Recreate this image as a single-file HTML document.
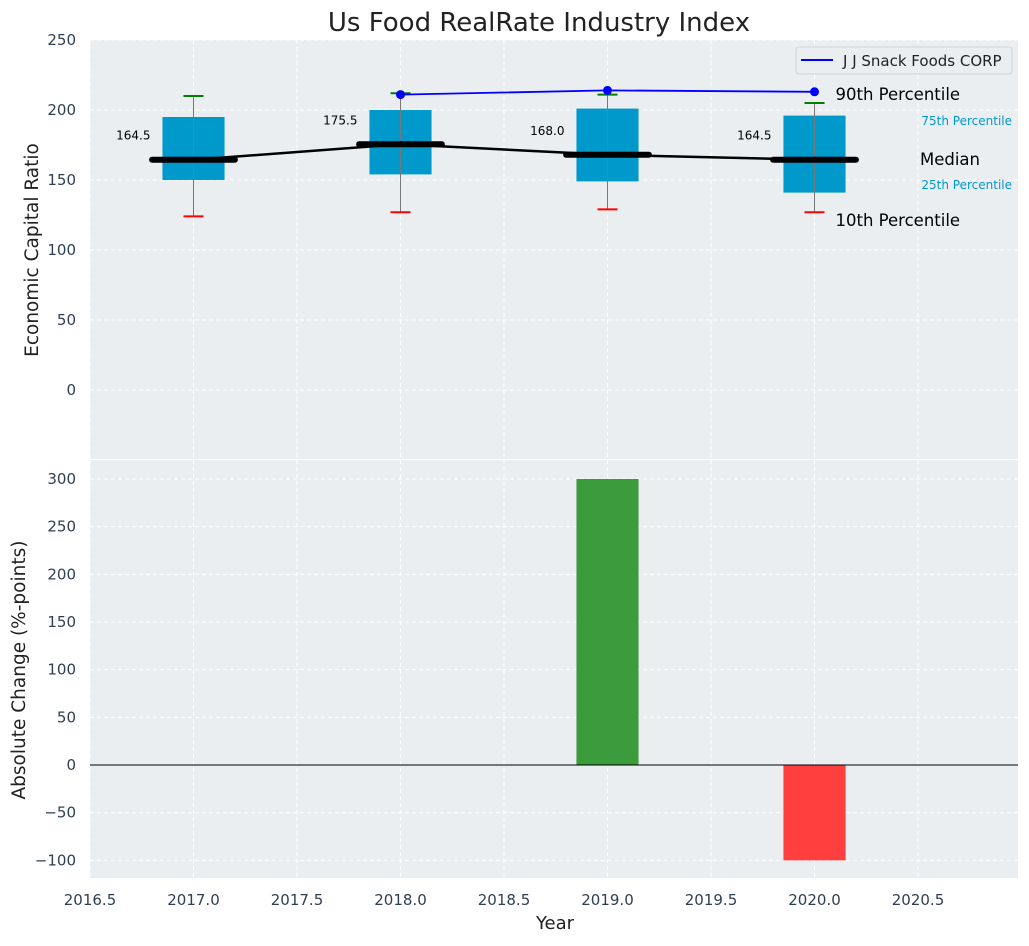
<!DOCTYPE html>
<html><head><meta charset="utf-8"><style>
body{margin:0;background:#fff;font-family:"DejaVu Sans","Liberation Sans",sans-serif}
svg text{font-family:"DejaVu Sans","Liberation Sans",sans-serif}
</style></head><body>
<svg id="c" width="1029" height="942" xmlns="http://www.w3.org/2000/svg"></svg>
<script>
const years=[2017,2018,2019,2020];
const p10=[124,127,129,127];
const q1=[150,154,149,141];
const med=[164.5,175.5,168.0,164.5];
const q3=[195,200,201,196];
const p90=[210,212,211,205];
const compYears=[2018,2019,2020];
const compVals=[211,214,213];
const changeYears=[2019,2020];
const changeVals=[300,-100];
const xTicks=[2016.5,2017.0,2017.5,2018.0,2018.5,2019.0,2019.5,2020.0,2020.5];
const yTicksTop=[0,50,100,150,200,250];
const yTicksBot=[-100,-50,0,50,100,150,200,250,300];

const NS="http://www.w3.org/2000/svg";
const svg=document.getElementById('c');
function el(t,a,txt){const e=document.createElementNS(NS,t);for(const k in a)e.setAttribute(k,a[k]);if(txt!==undefined)e.textContent=txt;svg.appendChild(e);return e;}
const L=90,R=1018;
const X=v=>L+(v-2016.5)*207;
const T0=40,T1=459,Yt=v=>390-v*1.4;
const B0=460,B1=878,Yb=v=>765-v*0.9533;

let e;
e=el('rect',{x:L,y:T0,width:R-L,height:T1-T0,fill:'#eaeef0'});

e=el('rect',{x:L,y:B0,width:R-L,height:B1-B0,fill:'#eaeef0'});

xTicks.forEach(t=>{
 el('line',{x1:X(t),x2:X(t),y1:T0,y2:T1,stroke:'#fff','stroke-dasharray':'4,3','stroke-width':1});
 el('line',{x1:X(t),x2:X(t),y1:B0,y2:B1,stroke:'#fff','stroke-dasharray':'4,3','stroke-width':1});
 e=el('text',{x:X(t),y:905,'text-anchor':'middle','font-size':15,fill:'#2e3f55'},t.toFixed(1));
 
});
yTicksTop.forEach(t=>{
 el('line',{x1:L,x2:R,y1:Yt(t),y2:Yt(t),stroke:'#fff','stroke-dasharray':'4,3'});
 e=el('text',{x:76,y:Yt(t)+5,'text-anchor':'end','font-size':15,fill:'#2e3f55'},t);
 
});
yTicksBot.forEach(t=>{
 el('line',{x1:L,x2:R,y1:Yb(t),y2:Yb(t),stroke:'#fff','stroke-dasharray':'4,3'});
 e=el('text',{x:76,y:Yb(t)+5,'text-anchor':'end','font-size':15,fill:'#2e3f55'},t===0?'0':(t<0?'\u2212'+(-t):t));
 
});
const bw=0.15*207;
years.forEach((y,i)=>{
 const cx=X(y);
 e=el('rect',{x:cx-bw,y:Yt(q3[i]),width:2*bw,height:Yt(q1[i])-Yt(q3[i]),fill:'#0099cc'});
 
 el('line',{x1:cx,x2:cx,y1:Yt(p90[i]),y2:Yt(p10[i]),stroke:'#777','stroke-width':1});
 el('line',{x1:cx-10,x2:cx+10,y1:Yt(p90[i]),y2:Yt(p90[i]),stroke:'green','stroke-width':2});
 el('line',{x1:cx-10,x2:cx+10,y1:Yt(p10[i]),y2:Yt(p10[i]),stroke:'red','stroke-width':2});
});
e=el('polyline',{points:years.map((y,i)=>X(y)+','+Yt(med[i])).join(' '),fill:'none',stroke:'#000','stroke-width':2.5});

years.forEach((y,i)=>{
 const cx=X(y);
 e=el('line',{x1:cx-0.2*207,x2:cx+0.2*207,y1:Yt(med[i]),y2:Yt(med[i]),stroke:'#000','stroke-width':6,'stroke-linecap':'round'});
 
 e=el('text',{x:cx-43,y:Yt(med[i])-20,'text-anchor':'end','font-size':12,fill:'#000'},med[i].toFixed(1));
 
});
e=el('polyline',{points:compYears.map((y,i)=>X(y)+','+Yt(compVals[i])).join(' '),fill:'none',stroke:'blue','stroke-width':1.8});

compYears.forEach((y,i)=>{e=el('circle',{cx:X(y),cy:Yt(compVals[i]),r:4.5,fill:'blue'});
 });
const ax=X(2020)+21;
[['90th Percentile',ax,100,16.5,'#000','start'],['75th Percentile',1012,125,12,'#0099cc','end'],['Median',980,165,16.5,'#000','end'],['25th Percentile',1012,189,12,'#0099cc','end'],['10th Percentile',ax,226,16.5,'#000','start']].forEach(a=>{
 e=el('text',{x:a[1],y:a[2],'font-size':a[3],fill:a[4],'text-anchor':a[5]},a[0]);
 
});
e=el('rect',{x:796,y:47,width:216,height:27,rx:3,fill:'#eaeef0',stroke:'#d0d4d8'});

el('line',{x1:801,x2:833,y1:60,y2:60,stroke:'blue','stroke-width':2});
e=el('text',{x:843,y:66,'font-size':15,fill:'#222'},'J J Snack Foods CORP');

changeYears.forEach((y,i)=>{
 const v=changeVals[i];
 e=el('rect',{x:X(y)-bw,y:Math.min(Yb(v),Yb(0)),width:2*bw,height:Math.abs(Yb(v)-Yb(0)),fill:v>=0?'#3a9c3a':'#ff3e3e'});
 
});
el('line',{x1:L,x2:R,y1:Yb(0),y2:Yb(0),stroke:'#000','stroke-width':1});
e=el('text',{x:539,y:31,'text-anchor':'middle','font-size':26,fill:'#222'},'Us Food RealRate Industry Index');

e=el('text',{x:555,y:929,'text-anchor':'middle','font-size':18,fill:'#222'},'Year');

e=el('text',{x:0,y:0,'text-anchor':'middle','font-size':18.5,fill:'#222',transform:'translate(38,250) rotate(-90)'},'Economic Capital Ratio');

e=el('text',{x:0,y:0,'text-anchor':'middle','font-size':18.5,fill:'#222',transform:'translate(25,670) rotate(-90)'},'Absolute Change (%-points)');

</script>
</body></html>
